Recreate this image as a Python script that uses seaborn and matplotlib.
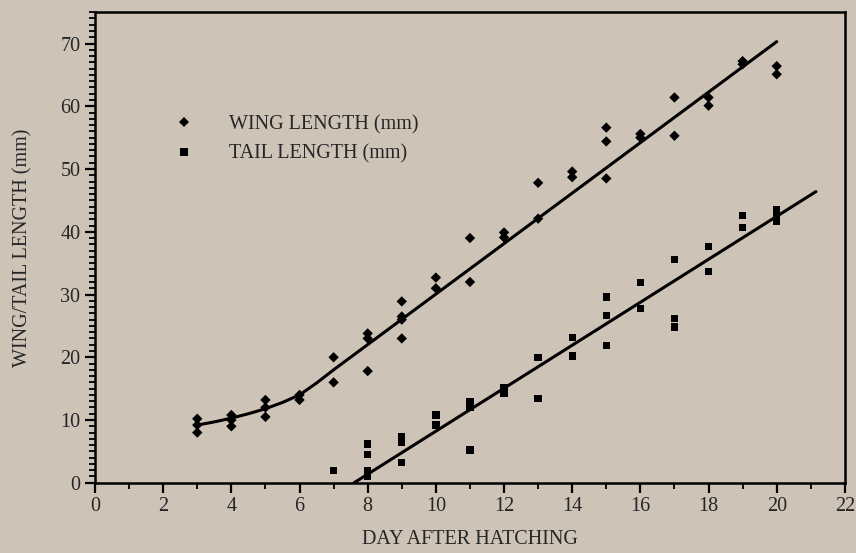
import numpy as np
import pandas as pd
import matplotlib
matplotlib.use("Agg")
import matplotlib.pyplot as plt
import seaborn as sns
from matplotlib.ticker import MultipleLocator

# wing length (mm) by day after hatching
wing_day = [3, 3, 3, 4, 4, 4, 5, 5, 5, 6, 6, 7, 7, 8, 8, 8, 9, 9, 9, 9,
            10, 10, 11, 11, 12, 12, 13, 13, 14, 14, 15, 15, 15, 16, 16,
            17, 17, 18, 18, 19, 19, 20, 20]
wing_len = [10.2, 9.2, 8.0, 10.8, 10.0, 9.0, 13.2, 12.0, 10.5, 14.0, 13.2, 20.0, 16.0,
            23.8, 23.0, 17.8, 28.9, 26.5, 26.0, 23.0, 32.7, 31.0, 39.0, 32.0,
            39.9, 39.1, 47.8, 42.1, 49.6, 48.7, 56.6, 54.4, 48.5, 55.6, 55.0,
            61.4, 55.3, 61.4, 60.1, 67.2, 66.7, 66.4, 65.1]

# tail length (mm) by day after hatching
tail_day = [7, 8, 8, 8, 8, 9, 9, 9, 10, 10, 11, 11, 11, 12, 12, 13, 13,
            14, 14, 15, 15, 15, 16, 16, 17, 17, 17, 18, 18, 19, 19, 20, 20, 20]
tail_len = [2.0, 6.2, 4.5, 2.0, 1.0, 7.3, 6.5, 3.2, 10.8, 9.2, 13.0, 12.1, 5.2,
            15.1, 14.3, 20.0, 13.4, 23.2, 20.2, 29.6, 26.7, 21.9, 31.9, 27.8,
            35.6, 26.2, 24.8, 37.7, 33.7, 42.6, 40.7, 43.6, 42.6, 41.6]

# fitted curves as drawn in the figure
wing_fit_x = [3, 3.5, 4, 4.5, 5, 5.5, 6, 6.5, 7, 20]
wing_fit_y = [9.2, 9.7, 10.3, 11.0, 11.8, 12.8, 14.0, 15.9, 18.0, 70.3]
tail_fit_x = [7.6, 21.15]
tail_fit_y = [0.0, 46.4]

bg = "#cdc3b6"

df = pd.concat([
    pd.DataFrame({"day": wing_day, "length": wing_len, "series": "WING LENGTH (mm)"}),
    pd.DataFrame({"day": tail_day, "length": tail_len, "series": "TAIL LENGTH (mm)"}),
], ignore_index=True)

sns.set_style("ticks")
plt.rcParams["font.family"] = ["Liberation Serif", "DejaVu Serif"]

fig = plt.figure(figsize=(8.56, 5.53), dpi=100, facecolor=bg)
ax = fig.add_axes([0.111, 0.127, 0.876, 0.851], facecolor=bg)

sns.scatterplot(data=df, x="day", y="length", style="series", hue="series",
                markers={"WING LENGTH (mm)": "D", "TAIL LENGTH (mm)": "s"},
                palette={"WING LENGTH (mm)": "black", "TAIL LENGTH (mm)": "black"},
                s=28, linewidth=0, ax=ax, zorder=3)
sns.lineplot(x=wing_fit_x, y=wing_fit_y, color="black", lw=2.2, ax=ax)
sns.lineplot(x=tail_fit_x, y=tail_fit_y, color="black", lw=2.2, ax=ax)

ax.set_xlim(0, 22)
ax.set_ylim(0, 75)
ax.xaxis.set_major_locator(MultipleLocator(2))
ax.xaxis.set_minor_locator(MultipleLocator(1))
ax.yaxis.set_major_locator(MultipleLocator(10))
ax.yaxis.set_minor_locator(MultipleLocator(1))
ax.tick_params(which="major", direction="out", length=7, width=1.6, labelsize=14.5, color="black")
ax.tick_params(which="minor", direction="out", length=4, width=1.3, color="black")
for sp in ax.spines.values():
    sp.set_visible(True)
    sp.set_linewidth(1.8)
    sp.set_color("black")

ax.set_xlabel("DAY AFTER HATCHING", fontsize=14.5, labelpad=10)
ax.set_ylabel("WING/TAIL LENGTH (mm)", fontsize=14.5, labelpad=20)

leg = ax.legend(loc="upper left", bbox_to_anchor=(0.068, 0.820), frameon=False,
                fontsize=14.5, handletextpad=1.2, labelspacing=0.5, markerscale=1.0)

fig.savefig("out.png", dpi=100, facecolor=bg)
